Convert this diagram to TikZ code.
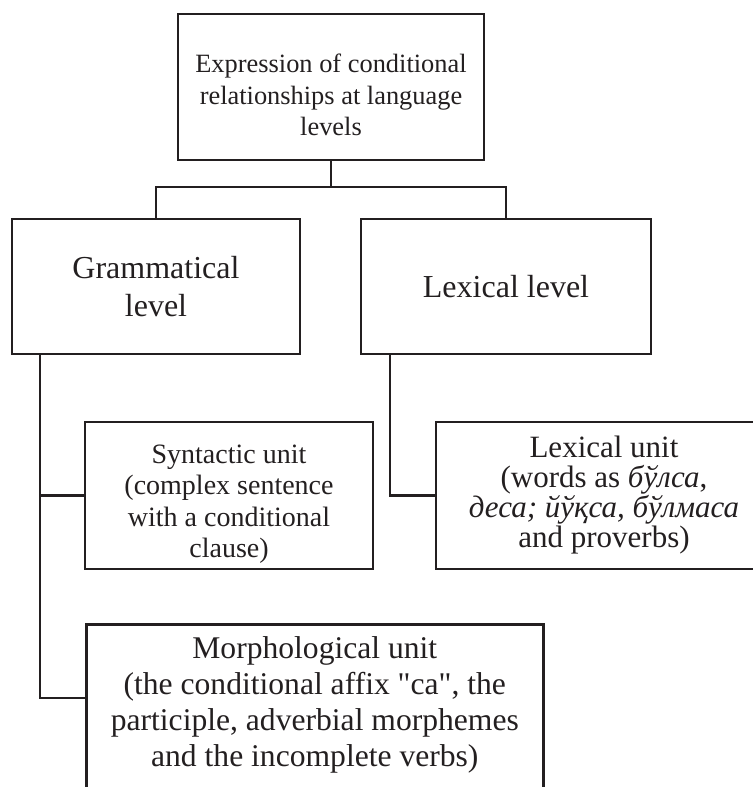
\documentclass[tikz,border=0pt]{standalone}
\usepackage{fontspec}
\setmainfont{Liberation Serif}
\usepackage{tikz}
\usetikzlibrary{positioning}
\definecolor{myink}{RGB}{35,31,32}

\begin{document}
\begin{tikzpicture}[x=0.5bp, y=-0.5bp,
  box/.style={draw=myink, line width=1.3bp, align=center, inner sep=0pt, text=myink},
  link/.style={draw=myink, line width=1.1bp}]
  \useasboundingbox (0,0) rectangle (753,787);
  % Top box
  \node[box, minimum width=153bp, minimum height=73bp,
        font=\fontsize{13.2bp}{15.75bp}\selectfont] (root) at (331,87)
    {\rule{0pt}{17.5bp}Expression of conditional\\relationships at language\\levels};
  % Levels
  \node[box, minimum width=144bp, minimum height=67.5bp,
        font=\fontsize{16bp}{19bp}\selectfont] (gram) at (156,286.5)
    {Grammatical\\level};
  \node[box, minimum width=145bp, minimum height=67.5bp,
        font=\fontsize{16bp}{19bp}\selectfont] (lexlev) at (506,286.5)
    {Lexical level};
  % Units
  \node[box, minimum width=144bp, minimum height=73.5bp,
        font=\fontsize{14bp}{15.75bp}\selectfont] (syn) at (229,495.5)
    {\rule{0pt}{18bp}Syntactic unit\\(complex sentence\\with a conditional\\clause)};
  \node[box, minimum width=168bp, minimum height=73.5bp,
        font=\fontsize{15.5bp}{15bp}\selectfont] (lexunit) at (604,495.5)
    {Lexical unit\\(words as \textit{бўлса},\\\textit{деса; йўқса, бўлмаса}\\and proverbs)};
  \node[box, anchor=north west, minimum width=228.5bp, inner ysep=2.5bp, text depth=25bp,
        font=\fontsize{15.8bp}{18bp}\selectfont] (morph) at (85,623)
    {\rule{0pt}{14.5bp}Morphological unit\\(the conditional affix \textquotedbl ca\textquotedbl, the\\participle, adverbial morphemes\\and the incomplete verbs)};
  % Branches
  \coordinate (split) at (331,187);
  \coordinate[right=14.5bp of gram.south west] (gfork);
  \coordinate[right=15bp of lexlev.south west] (lfork);
  \coordinate[below=37.5bp of morph.north west] (morphin);
  \draw[link] (root.south) -- (split);
  \draw[link] (gram.north) |- (split) -| (lexlev.north);
  \draw[link] (gfork) |- (syn.west);
  \draw[link] (gfork) |- (morphin);
  \draw[link] (lfork) |- (lexunit.west);
\end{tikzpicture}
\end{document}
